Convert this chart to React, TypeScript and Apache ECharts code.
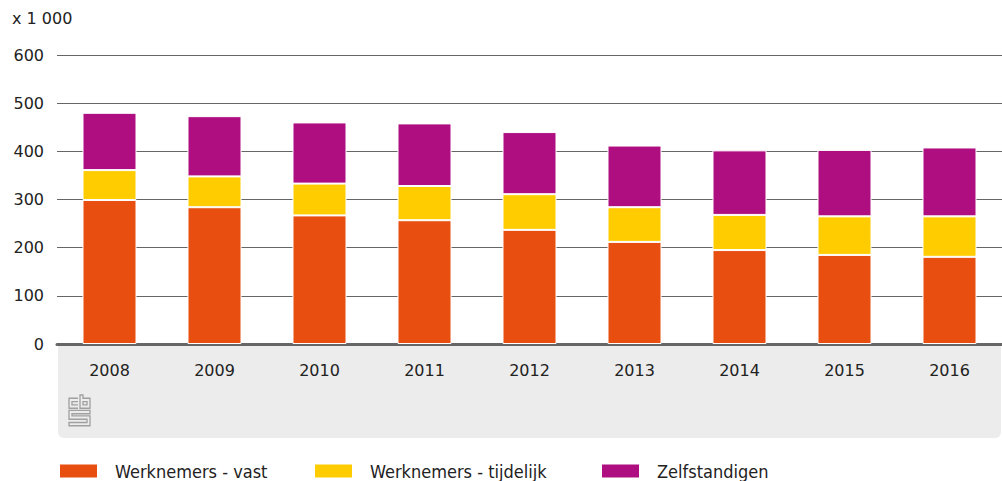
import React, { useEffect, useRef } from "react";
import * as echarts from "echarts";

const years = ["2008", "2009", "2010", "2011", "2012", "2013", "2014", "2015", "2016"];
const vast = [299, 284, 267, 257, 237, 212, 195, 185, 181];
const tijdelijk = [62, 64, 66, 71, 74, 72, 73, 80, 84];
const zelfstandigen = [119, 125, 127, 130, 129, 128, 134, 138, 143];
const seriesNames = ["Werknemers - vast", "Werknemers - tijdelijk", "Zelfstandigen"];
const colors = ["#e84e0f", "#ffcc00", "#af0e80"];

const logoPath =
  "M10,3 H1 V12 H10 M10,6 H4 V9 H10 " +
  "M12,0 V12 H22 V3 H15 V0 Z M15,6 H19 V9 H15 Z " +
  "M22,14 H1 V22 H19 V25 H1 V28 H22 V19 H4 V17 H22 Z";

let registered = false;

export default function App() {
  const ref = useRef<HTMLDivElement>(null);
  useEffect(() => {
    if (!registered) {
      echarts.graphic.registerShape("logo", echarts.graphic.extendPath(logoPath, {}) as any);
      registered = true;
    }
    const chart = echarts.init(ref.current!, null, { renderer: "svg" });
    const legendFont = "'Liberation Sans Narrow', 'DejaVu Sans Condensed', 'Roboto', sans-serif";
    const legendLefts = [58, 313, 600];
    const data = [vast, tijdelijk, zelfstandigen];
    chart.setOption({
      animation: false,
      grid: { left: 57, right: 0, top: 55, bottom: 137, containLabel: false },
      legend: seriesNames.map((n, i) => ({
        data: [n],
        left: legendLefts[i],
        top: 462,
        padding: 0,
        itemWidth: 39,
        itemHeight: 15,
        itemGap: 18,
        icon: "rect",
        textStyle: { fontSize: 18, color: "#222", fontFamily: legendFont, padding: [0, 0, 0, 12] },
      })),
      graphic: [
        {
          type: "rect",
          z: -1,
          shape: { x: 58, y: 346, width: 943, height: 92, r: [0, 0, 6, 6] },
          style: { fill: "#ececec" },
        },
        {
          type: "text",
          left: 12,
          top: 10,
          style: { text: "x 1 000", fontSize: 16, fill: "#222", fontFamily: "DejaVu Sans" },
        },
        {
          type: "logo",
          x: 68,
          y: 395,
          scaleX: 1,
          scaleY: 1.1,
          style: { fill: "none", stroke: "#a0a0a0", lineWidth: 1.3 },
        },
      ],
      xAxis: {
        type: "category",
        data: years,
        axisLine: { lineStyle: { color: "#666", width: 3 } },
        axisTick: { show: false },
        axisLabel: { fontSize: 16, color: "#222", fontFamily: "DejaVu Sans", margin: 18 },
      },
      yAxis: {
        type: "value",
        min: 0,
        max: 600,
        interval: 100,
        axisLine: { show: false },
        axisTick: { show: false },
        splitLine: { lineStyle: { color: "#666", width: 1 } },
        axisLabel: { fontSize: 16, color: "#222", fontFamily: "DejaVu Sans", margin: 13 },
      },
      series: seriesNames.map((n, i) => ({
        name: n,
        type: "bar",
        stack: "total",
        data: data[i],
        barWidth: 54,
        itemStyle: { color: colors[i], borderColor: "#fff", borderWidth: 1 },
      })),
    });
    return () => chart.dispose();
  }, []);
  return <div ref={ref} style={{ width: 1002, height: 481, position: "absolute", left: 0, top: 0 }} />;
}
